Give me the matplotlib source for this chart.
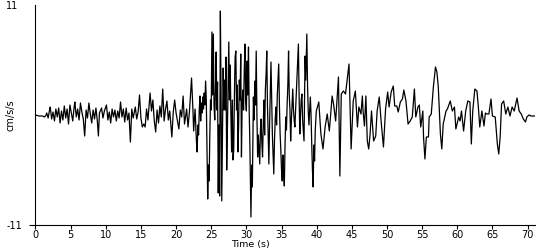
import matplotlib
matplotlib.use('Agg')
from matplotlib import pyplot as plt

# acceleration trace (time in s, value in cm/s/s)
t = [0, 0.5, 1.0, 1.3, 1.5, 1.6, 1.8, 2.0, 2.1, 2.3, 2.5, 2.7, 2.9, 3.1, 3.3, 3.5, 3.7, 3.9,
     4.1, 4.3, 4.5, 4.7, 4.9, 5.1, 5.3, 5.5, 5.6, 5.8, 6.0, 6.2, 6.4, 6.6, 6.8, 7.0, 7.2, 7.4,
     7.6, 7.8, 8.0, 8.2, 8.4, 8.6, 8.8, 8.95, 9.1, 9.4, 9.6, 9.8, 10.1, 10.3, 10.5, 10.7, 10.9,
     11.1, 11.3, 11.5, 11.7, 11.9, 12.1, 12.3, 12.5, 12.7, 12.9, 13.1, 13.3, 13.5, 13.7, 13.9,
     14.2, 14.4, 14.6, 14.8, 15.0, 15.2, 15.4, 15.6, 15.8, 16.0, 16.3, 16.5, 16.7, 16.9, 17.1,
     17.3, 17.5, 17.7, 17.9, 18.1, 18.3, 18.5, 18.7, 18.9, 19.1, 19.4, 19.6, 19.8, 20.0, 20.2,
     20.4, 20.6, 20.8, 21.0, 21.2, 21.5, 21.7, 21.9, 22.2, 22.4, 22.5, 22.7,
     22.9, 23.0, 23.1, 23.2, 23.3, 23.4, 23.5, 23.6, 23.7, 23.8, 23.9, 24.0, 24.1, 24.2, 24.3,
     24.5, 24.6, 24.7, 24.8, 24.9, 25.0, 25.1, 25.2, 25.3, 25.4, 25.5, 25.6, 25.7, 25.8, 25.9,
     26.0, 26.1, 26.2, 26.3, 26.4, 26.5, 26.6, 26.7, 26.8, 26.9, 27.0, 27.1, 27.2, 27.3, 27.4,
     27.5, 27.6, 27.7, 27.8, 27.9, 28.0, 28.1, 28.2, 28.3, 28.4, 28.5, 28.6, 28.7, 28.8, 28.9,
     29.0, 29.1, 29.2, 29.3, 29.4, 29.5, 29.6, 29.7, 29.8, 29.9, 30.0, 30.1, 30.2, 30.3, 30.4,
     30.5, 30.65, 30.75, 30.85, 31.0, 31.1, 31.2, 31.3, 31.4, 31.5, 31.6, 31.7, 31.8, 31.9, 32.0,
     32.1, 32.2, 32.3, 32.4, 32.5, 32.6, 32.7, 32.8, 32.9, 33.0, 33.1, 33.2, 33.3, 33.4, 33.5,
     33.6, 33.7, 33.8, 33.9, 34.0, 34.1, 34.2, 34.3, 34.4, 34.5, 34.6, 34.7, 34.8, 34.9, 35.0,
     35.1, 35.2, 35.3, 35.4, 35.5, 35.6, 35.7, 35.8, 35.9, 36.0, 36.1, 36.2, 36.3, 36.4, 36.5,
     36.6, 36.7, 36.8, 36.9, 37.0, 37.1, 37.2, 37.3, 37.4, 37.5, 37.6, 37.7, 37.8, 37.9, 38.0,
     38.1, 38.2, 38.3, 38.35, 38.45, 38.6, 38.7, 38.8, 38.9, 39.0, 39.1, 39.2, 39.3, 39.4, 39.5,
     39.6, 39.7, 39.8, 39.95,
     40.3, 40.6, 40.9, 41.2, 41.5, 41.8, 42.2, 42.4, 42.7, 43.1, 43.3, 43.5,
     43.8, 44.1, 44.4, 44.6, 44.9, 45.2, 45.5, 45.8, 46.0, 46.3, 46.5, 46.6, 46.8, 47.0, 47.2,
     47.4, 47.6, 47.8, 48.1, 48.4, 48.6, 48.9, 49.2, 49.5, 49.8, 50.1, 50.3, 50.6, 50.9, 51.1,
     51.4, 51.6, 51.9, 52.2, 52.4, 52.7, 53.0, 53.3, 53.6, 53.9, 54.1, 54.4, 54.6, 54.8, 55.1,
     55.2, 55.4, 55.6, 55.9, 56.0, 56.3, 56.6, 56.9, 57.1, 57.3, 57.6, 57.8, 58.0, 58.4, 58.6,
     59.0, 59.3, 59.6, 59.8, 60.2, 60.4, 60.6, 60.9, 61.2, 61.5, 61.8, 62.0, 62.2, 62.5, 62.8,
     63.0, 63.2, 63.5, 63.8, 64.0, 64.2, 64.5, 64.8, 65.0, 65.4, 65.7, 65.9, 66.1, 66.3, 66.6,
     66.9, 67.2, 67.5, 67.8, 68.1, 68.5, 68.8, 69.1, 69.4, 69.7, 69.9, 70.2, 70.5, 71.0]
acc = [0, -0.1, -0.1, -0.2, 0, 0.2, -0.3, 0.5, 0.8, -0.4, 0.3, -0.6, 0.6, -0.2, 0.7, -0.8, 0.4, -0.5,
       0.9, -0.3, 0.6, -0.9, 1.0, 0.2, -0.6, 0.8, 1.3, -0.2, 0.6, -0.5, 1.2, 0.3, -0.4, -2.1, 0.5, -0.3,
       1.2, 0.1, -0.8, 0.5, -0.4, 0.7, -0.6, -2.1, 0.2, 0.7, -0.3, 0.4, 1.0, -0.5, 0.3, -0.8, 0.6,
       -0.2, 0.5, -0.6, 0.4, -0.3, 1.3, -0.2, 0.6, -0.7, 0.7, -0.5, 0.2, -2.7, 0.6, -0.3,
       0.8, -0.4, 0.3, 2.0, -0.3, -1.2, -0.9, -1.2, 0.6, -0.5, 2.2, 0.4, 1.5, -0.6, -1.7,
       0.5, -0.8, 0.9, -0.2, 2.6, -0.6, 0.6, 1.4, -0.5, 0.4, -2.2, 0.3, 1.5, 0.2, -0.6,
       -1.4, 0.5, -0.2, 1.9, -0.9, 0.6, -1.2, 0.3, 3.7, 0.5, -1.6, 0.6,
       -2.7, -3.7, -1.0, -2.0, 0.5, 1.9, -0.6, 1.2, 0.2, 1.8, 0.6, 2.2, 1.0, 3.4, 1.5,
       -8.4, -5.0, -6.6, -2.0, 1.5, 0.5, 8.3, 2.0, 8.1, 1.0, -0.5, 2.5, 6.3, 0.5, 3.3,
       -7.8, -1.0, -8.1, 10.4, 2.0, -8.6, -2.0, 4.7, 0.5, 3.5, 0.5, 5.8, -5.5, -1.6, 3.0,
       7.3, 1.5, 5.0, 0.0, -3.7, 1.5, -4.5, -3.5, 2.0, 5.8, 6.4, 0.5, 3.0, -3.7, -1.0,
       3.5, 1.5, 6.1, -4.2, 1.0, 2.5, 0.5, 4.5, 7.1, 1.5, 0.4, 5.4, 2.0, 6.8, 0.5,
       -3.0, -10.2, -5.0, -7.2, 1.8, -0.5, 3.4, 1.0, 6.4, 0.0, -4.2, -2.0, -3.5, -4.9, -1.5,
       -0.4, -2.8, -4.2, -1.0, 1.5, -2.0, 2.5, 4.0, 6.4, 1.0, -2.0, -4.9, -1.0, 2.0, 5.3,
       1.5, -2.0, -4.0, -5.9, -2.5, -0.5, 0.8, -1.0, 2.0, 3.5, 5.1, 1.0, -1.9, -3.5, -5.5,
       -6.6, -4.0, -6.0, -7.1, -3.0, -0.2, -1.5, 1.1, 3.0, 6.4, 2.0, 0.5, -2.6, -0.5, 1.0,
       2.6, 0.5, -0.5, -1.2, 0.5, 2.0, 4.0, 5.5, 7.1, 2.0, -1.9, 0.0, 1.5, 2.1, -0.5,
       -1.5, -2.6, 3.0, 5.9, 3.5, 8.1, 3.0, 0.4, -1.0, 0.5, 1.8, 0.0, -3.0, -5.5, -7.2,
       -3.0, -4.6, -1.5, 0.4,
       1.3, -1.9, -3.4, -1.2, 0.1, -1.6, 1.9, 1.1, -0.6, 3.8, -6.1, 2.1,
       2.4, 2.1, 3.9, 5.1, -3.4, 1.4, 2.4, -1.2, 0.8, 0.1, 1.9, 0.4, -1.1, 1.9, -2.6,
       -3.4, -1.9, 0.4, -2.6, -2.1, 0.4, 1.8, -0.9, -3.2, 0.6, 2.3, 0.8, 2.3, 2.9, 0.9,
       0.9, 0.3, 1.3, 1.6, 2.5, 1.4, -0.9, -0.6, -0.2, 2.6, -0.2, 0.8, 1.0, -1.2, 0.4,
       -2.2, -4.4, -2.2, -2.2, -0.2, 0.1, 2.8, 4.8, 4.3, 2.8, -1.9, -3.4, -0.9, 0.4, 0.6,
       1.4, 0.4, 0.8, -1.4, -0.2, -0.6, 0.4, -1.6, 0.4, 1.4, 1.3, -2.9, 0.4, 2.6, 2.4,
       0.8, -1.2, 0.4, -1.1, 0.2, 0.1, 0.1, 1.6, -0.1, -0.2, -2.9, -3.9, -2.2, 1.1, 1.4,
       0.1, 0.8, -0.1, 0.8, 0.4, 1.7, 0.4, 0.1, -0.4, -0.7, -0.2, 0.0, -0.1, -0.1]

xticks = [0, 5, 10, 15, 20, 25, 30, 35, 40, 45, 50, 55, 60, 65, 70]
yticks = [-11, 11]

plt.rcParams['font.family'] = 'DejaVu Sans'
plt.rcParams['font.size'] = 7
plt.rcParams['axes.unicode_minus'] = False

fig = plt.figure(figsize=(5.5, 2.5), dpi=100)
ax = fig.add_axes([0.0645, 0.1, 0.9075, 0.88])
ax.plot(t, acc, color='black', lw=0.9)
ax.set_xlim(0, 71)
ax.set_ylim(-11, 11)
ax.set_xticks(xticks)
ax.set_yticks(yticks)
ax.spines['top'].set_visible(False)
ax.spines['right'].set_visible(False)
ax.tick_params(axis='x', length=3, width=0.8, pad=0.5)
ax.tick_params(axis='y', length=4, width=0.8, pad=17)
for lab in ax.get_yticklabels():
    lab.set_horizontalalignment('left')
# no tick mark at the top value
ax.yaxis.get_major_ticks()[1].tick1line.set_visible(False)

ax.set_xlabel('Time (s)', fontsize=6.8)
ax.xaxis.set_label_coords(0.43, -0.068)
ax.set_ylabel('cm/s/s')
ax.yaxis.set_label_coords(-0.041, 0.5)

fig.savefig('out.png', dpi=100)
